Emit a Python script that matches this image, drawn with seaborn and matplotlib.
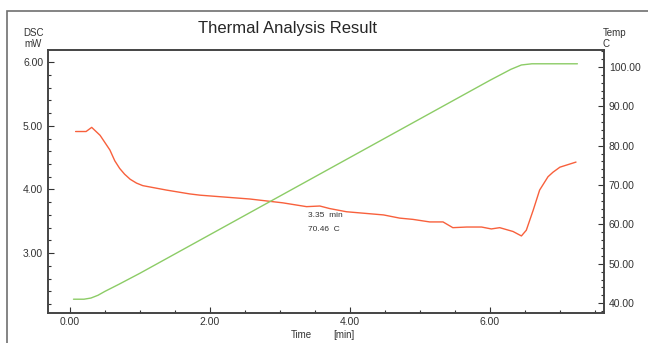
import numpy as np
import pandas as pd
import matplotlib
matplotlib.use('Agg')
import matplotlib.pyplot as plt
from matplotlib.ticker import MultipleLocator, FormatStrFormatter
from matplotlib.patches import Rectangle
import seaborn as sns

# Krzywa DSC (mW) w funkcji czasu (min)
czas_dsc = [0.08, 0.23, 0.31, 0.43, 0.57, 0.64, 0.71, 0.78, 0.86, 0.95, 1.04, 1.38,
            1.71, 1.86, 2.57, 3.04, 3.38, 3.57, 3.71, 3.95, 4.48, 4.71, 4.90, 5.14,
            5.33, 5.47, 5.67, 5.88, 6.02, 6.14, 6.33, 6.45, 6.52, 6.62, 6.71, 6.83,
            6.90, 7.00, 7.23]
dsc_mw = [4.91, 4.91, 4.975, 4.85, 4.62, 4.45, 4.33, 4.24, 4.16, 4.10, 4.06, 3.99,
          3.93, 3.91, 3.85, 3.79, 3.73, 3.74, 3.70, 3.65, 3.60, 3.55, 3.53, 3.49,
          3.49, 3.40, 3.41, 3.41, 3.38, 3.40, 3.34, 3.27, 3.36, 3.68, 3.99, 4.20,
          4.27, 4.35, 4.43]

# Temperatura (C) w funkcji czasu (min)
czas_temp = [0.05, 0.20, 0.30, 0.40, 0.50, 0.70, 1.00, 2.00, 3.00, 4.00, 5.00,
             6.00, 6.30, 6.45, 6.60, 7.25]
temp_c = [41.0, 41.0, 41.3, 42.0, 43.0, 44.8, 47.6, 57.4, 67.2, 77.0, 86.8,
          96.6, 99.4, 100.5, 100.8, 100.8]

df_dsc = pd.DataFrame({'czas': czas_dsc, 'dsc': dsc_mw})
df_temp = pd.DataFrame({'czas': czas_temp, 'temp': temp_c})

sns.set_style('white')
plt.rcParams['font.family'] = ['Liberation Sans', 'DejaVu Sans']

fig = plt.figure(figsize=(6.48, 3.43), dpi=100)
ax = fig.add_axes([0.0741, 0.0875, 0.858, 0.7667])
ax2 = ax.twinx()

sns.lineplot(data=df_dsc, x='czas', y='dsc', ax=ax, color='#f8603c', linewidth=1.0)
sns.lineplot(data=df_temp, x='czas', y='temp', ax=ax2, color='#8ccc66', linewidth=1.0)

ax.set_xlim(-0.314, 7.63)
ax.set_ylim(2.06, 6.19)
ax2.set_ylim(37.5, 104.3)

ax.xaxis.set_major_locator(MultipleLocator(2))
ax.xaxis.set_minor_locator(MultipleLocator(0.5))
ax.yaxis.set_major_locator(MultipleLocator(1))
ax.yaxis.set_minor_locator(MultipleLocator(0.2))
ax2.yaxis.set_major_locator(MultipleLocator(10))
ax2.yaxis.set_minor_locator(MultipleLocator(2))
ax.xaxis.set_major_formatter(FormatStrFormatter('%.2f'))
ax.yaxis.set_major_formatter(FormatStrFormatter('%.2f'))
ax2.yaxis.set_major_formatter(FormatStrFormatter('%.2f'))

for a in (ax, ax2):
    a.set_xlabel('')
    a.set_ylabel('')
    a.tick_params(which='both', direction='in', labelsize=7.5, colors='#333333',
                  width=0.8)
    a.tick_params(which='major', length=4)
    a.tick_params(which='minor', length=2.5)
    for s in a.spines.values():
        s.set_color('#444444')
        s.set_linewidth(1.2)
ax.tick_params(axis='both', which='both', bottom=True, left=True)
ax.tick_params(axis='x', pad=3)
ax2.tick_params(axis='y', which='both', right=True)

fig.text(0.443, 0.918, 'Thermal Analysis Result', fontsize=12, ha='center', va='center')
fig.text(0.051, 0.905, 'DSC', fontsize=7, ha='center', va='center', color='#333333')
fig.text(0.051, 0.872, 'mW', fontsize=7, ha='center', va='center', color='#333333')
fig.text(0.948, 0.905, 'Temp', fontsize=7, ha='center', va='center', color='#333333')
fig.text(0.935, 0.872, 'C', fontsize=7, ha='center', va='center', color='#333333')
fig.text(0.465, 0.024, 'Time', fontsize=7, ha='center', va='center', color='#333333')
fig.text(0.53, 0.024, '[min]', fontsize=7, ha='center', va='center', color='#333333')

# Adnotacja kursora
ax.text(3.4, 3.59, '3.35  min', fontsize=6, color='#333333', va='center')
ax.text(3.4, 3.37, '70.46  C', fontsize=6, color='#333333', va='center')

# Ramka okna
fig.add_artist(Rectangle((7 / 648, -0.1), 1.2, 1 - 11 / 343 + 0.1,
                         transform=fig.transFigure, fill=False,
                         edgecolor='#707070', linewidth=1.2))

fig.savefig('out.png', dpi=100)
